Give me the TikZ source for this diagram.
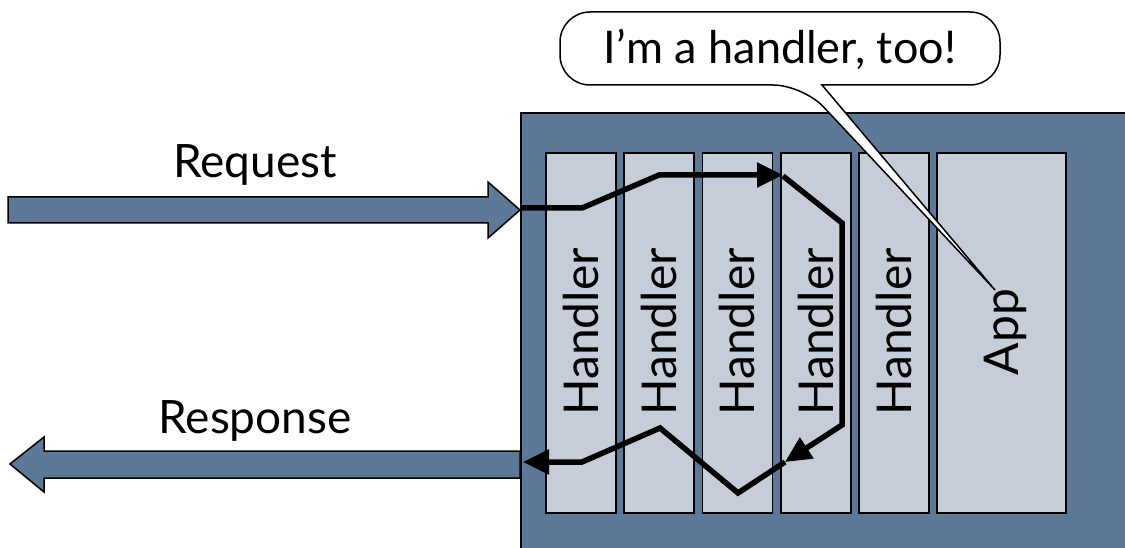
\documentclass[tikz,border=0pt]{standalone}
\usepackage{fontspec}
\setmainfont{Lato}
\usetikzlibrary{arrows.meta}
\definecolor{steel}{RGB}{94,121,152}
\definecolor{pale}{RGB}{197,205,216}
\tikzset{
  col/.style={draw=black, line width=1.5pt, fill=pale},
  fatarrow/.style={draw=black, line width=1.5pt, fill=steel, line join=miter},
  flow/.style={draw=black, line width=5.5pt, line join=miter,
    -{Triangle[length=26pt,width=24pt]}},
  lbl/.style={font=\fontsize{46}{52}\selectfont, anchor=base},
  vlbl/.style={font=\fontsize{48}{54}\selectfont, anchor=base, rotate=90},
}
\begin{document}
\begin{tikzpicture}[x=1pt,y=-1pt]
\useasboundingbox (0,0) rectangle (1125,548);
\clip (0,0) rectangle (1125,548);
% container
\draw[fill=steel, line width=2pt] (521,113) rectangle (1135,560);
\coordinate (cont) at (521,113);
% columns
\node[col, minimum width=70pt, minimum height=360pt, inner sep=0pt] (h1) at (581,333) {};
\node[col, minimum width=70pt, minimum height=360pt, inner sep=0pt] (h2) at (659,333) {};
\node[col, minimum width=70pt, minimum height=360pt, inner sep=0pt] (h3) at (737.5,333) {};
\node[col, minimum width=70pt, minimum height=360pt, inner sep=0pt] (h4) at (816,333) {};
\node[col, minimum width=70pt, minimum height=360pt, inner sep=0pt] (h5) at (894,333) {};
\node[col, minimum width=129pt, minimum height=360pt, inner sep=0pt] (app) at (1001.5,333) {};
% labels
\node[vlbl] (t1) at (598,332) {Handler};
\node[vlbl] (t2) at (676,332) {Handler};
\node[vlbl] (t3) at (754.5,332) {Handler};
\node[vlbl] (t4) at (833,332) {Handler};
\node[vlbl] (t5) at (911,332) {Handler};
\node[vlbl] (t6) at (1018,332) {App};
% big arrows
\draw[fatarrow] (8,197) -- (488,197) -- (488,182) -- (520,210) -- (488,238) -- (488,223) -- (8,223) -- cycle;
\draw[fatarrow] (520,451) -- (44,451) -- (44,437) -- (10,464) -- (44,492) -- (44,478) -- (520,478) -- cycle;
\node[lbl] (req) at (255,178) {Request};
\node[lbl] (resp) at (255,433) {Response};
% flow path coordinates
\coordinate (p0) at (521,208);
\coordinate (p1) at (582,208);
\coordinate (p2) at (659,175);
\coordinate (p3) at (783,175);
\coordinate (q0) at (783,176);
\coordinate (q1) at (842,223);
\coordinate (q2) at (842,425);
\coordinate (q3) at (785,462);
\coordinate (r0) at (785,462);
\coordinate (r1) at (738,493);
\coordinate (r2) at (660,428);
\coordinate (r3) at (582,462);
\coordinate (r4) at (523,462);
\draw[flow] (p0) -- (p1) -- (p2) -- (p3);
\draw[flow] (q0) -- (q1) -- (q2) -- (q3);
\draw[flow] (r0) -- (r1) -- (r2) -- (r3) -- (r4);
% speech bubble
\coordinate (tip) at (995,290);
\draw[fill=white, line width=1.5pt] (822,85) [rounded corners=30pt] -- (1000,85) -- (1000,12) -- (560,12) -- (560,85) -- (803,85) [sharp corners] -- (tip) -- cycle;
\node[font=\fontsize{45}{50}\selectfont, anchor=base] (bub) at (780,64) {I’m a handler, too!};
\end{tikzpicture}
\end{document}
